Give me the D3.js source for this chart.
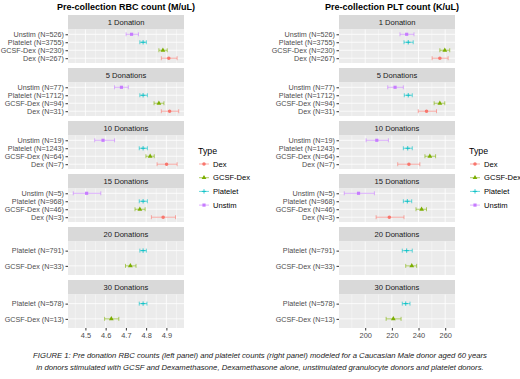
<html>
  <head>
    <style>
      body { margin: 0; background: #fff; }
      svg { font-family: "Liberation Sans", Arial, sans-serif; }
    </style>
  </head>
  <body>
    <svg id="chart" width="520" height="379"></svg>
    <script src="https://cdn.jsdelivr.net/npm/d3@7"></script>
    <script>
      // facet names and row data (top to bottom inside each facet)
      const facetNames = ["1 Donation", "5 Donations", "10 Donations", "15 Donations", "20 Donations", "30 Donations"];
      const rowFacet = [0, 0, 0, 0, 1, 1, 1, 1, 2, 2, 2, 2, 3, 3, 3, 3, 4, 4, 5, 5];
      const rowType = ["Unstim", "Platelet", "GCSF-Dex", "Dex",
                       "Unstim", "Platelet", "GCSF-Dex", "Dex",
                       "Unstim", "Platelet", "GCSF-Dex", "Dex",
                       "Unstim", "Platelet", "GCSF-Dex", "Dex",
                       "Platelet", "GCSF-Dex",
                       "Platelet", "GCSF-Dex"];
      const rowN = [526, 3755, 230, 267, 77, 1712, 94, 31, 19, 1243, 64, 7, 5, 968, 46, 3, 791, 33, 578, 13];

      // RBC (M/uL)
      const rbcMean = [4.728, 4.785, 4.883, 4.912, 4.678, 4.785, 4.863, 4.916, 4.587, 4.785, 4.820, 4.901,
                       4.506, 4.785, 4.769, 4.884, 4.785, 4.722, 4.785, 4.628];
      const rbcLow  = [4.701, 4.769, 4.863, 4.875, 4.644, 4.769, 4.839, 4.875, 4.546, 4.766, 4.799, 4.854,
                       4.440, 4.766, 4.745, 4.826, 4.769, 4.698, 4.766, 4.595];
      const rbcHigh = [4.762, 4.801, 4.904, 4.953, 4.712, 4.806, 4.888, 4.961, 4.644, 4.806, 4.840, 4.953,
                       4.576, 4.806, 4.795, 4.945, 4.801, 4.750, 4.804, 4.665];
      const rbcTicks = [4.5, 4.6, 4.7, 4.8, 4.9];

      // PLT (K/uL)
      const pltMean = [231.1, 232.3, 259.7, 256.0, 222.4, 232.3, 256.0, 246.0, 208.7, 231.9, 248.5, 232.8,
                       195.0, 231.6, 242.3, 218.1, 231.1, 234.9, 230.4, 221.1];
      const pltLow  = [226.1, 229.1, 256.0, 250.2, 216.9, 229.3, 251.7, 239.8, 200.7, 228.6, 244.8, 224.4,
                       184.3, 228.6, 238.1, 208.2, 227.8, 230.4, 227.8, 215.7];
      const pltHigh = [236.6, 236.0, 263.4, 262.2, 228.6, 235.3, 259.7, 253.5, 217.4, 235.3, 252.8, 241.0,
                       206.9, 234.9, 246.0, 229.1, 235.3, 238.6, 233.6, 226.9];
      const pltTicks = [200, 220, 240, 260];

      const types = ["Dex", "GCSF-Dex", "Platelet", "Unstim"];
      const typeColors = ["#F8766D", "#7CAE00", "#00BFC4", "#C77CFF"];
      const typeShapes = [d3.symbolCircle, d3.symbolTriangle, "plus", d3.symbolSquare];

      const color = d3.scaleOrdinal().domain(types).range(typeColors);
      const shape = d3.scaleOrdinal().domain(types).range(typeShapes);

      const svg = d3.select("#chart");
      svg.append("rect").attr("width", 520).attr("height", 379).attr("fill", "#fff");

      const firstTop = 15, pitch = 53, stripH = 14.5, panelH = 33.5;

      function drawPoint(g, t, px, py) {
        const sym = shape(t);
        if (sym === "plus") {
          g.append("path")
            .attr("d", `M${px - 2.2},${py}H${px + 2.2}M${px},${py - 2.2}V${py + 2.2}`)
            .attr("stroke", color(t)).attr("stroke-width", 0.8).attr("fill", "none");
        } else {
          g.append("path")
            .attr("d", d3.symbol().type(sym).size(10)())
            .attr("transform", `translate(${px},${py})`)
            .attr("fill", color(t));
        }
      }

      function drawPlot(cfg) {
        const g = svg.append("g");
        const lo = d3.min(cfg.low), hi = d3.max(cfg.high);
        const pad = (hi - lo) * 0.05;
        const x = d3.scaleLinear().domain([lo - pad, hi + pad]).range([cfg.x0, cfg.x1]);
        const step = cfg.ticks[1] - cfg.ticks[0];
        const minor = d3.range(cfg.ticks.length + 1)
          .map(i => cfg.ticks[0] - step / 2 + i * step)
          .filter(v => v >= x.domain()[0] && v <= x.domain()[1]);

        g.append("text")
          .attr("x", cfg.titleX).attr("y", 10)
          .attr("text-anchor", "middle")
          .attr("font-size", 9).attr("font-weight", "bold").attr("fill", "#000")
          .text(cfg.title);

        facetNames.forEach((name, f) => {
          const top = firstTop + f * pitch;
          const pTop = top + stripH;
          const rows = d3.range(rowFacet.length).filter(i => rowFacet[i] === f);
          const labels = rows.map(i => `${rowType[i]} (N=${rowN[i]})`);
          const y = d3.scalePoint().domain(labels).range([pTop, pTop + panelH]).padding(0.6);

          g.append("rect").attr("x", cfg.x0).attr("y", top)
            .attr("width", cfg.x1 - cfg.x0).attr("height", stripH).attr("fill", "#D9D9D9");
          g.append("text")
            .attr("x", (cfg.x0 + cfg.x1) / 2).attr("y", top + stripH / 2 + 2.7)
            .attr("text-anchor", "middle").attr("font-size", 7.6).attr("fill", "#1A1A1A")
            .text(name);

          g.append("rect").attr("x", cfg.x0).attr("y", pTop)
            .attr("width", cfg.x1 - cfg.x0).attr("height", panelH).attr("fill", "#EBEBEB");

          g.selectAll(null).data(minor).enter().append("line")
            .attr("x1", d => x(d)).attr("x2", d => x(d))
            .attr("y1", pTop).attr("y2", pTop + panelH)
            .attr("stroke", "#fff").attr("stroke-width", 0.4);
          g.selectAll(null).data(cfg.ticks).enter().append("line")
            .attr("x1", d => x(d)).attr("x2", d => x(d))
            .attr("y1", pTop).attr("y2", pTop + panelH)
            .attr("stroke", "#fff").attr("stroke-width", 0.8);
          g.selectAll(null).data(labels).enter().append("line")
            .attr("x1", cfg.x0).attr("x2", cfg.x1)
            .attr("y1", d => y(d)).attr("y2", d => y(d))
            .attr("stroke", "#fff").attr("stroke-width", 0.8);

          const yAxis = g.append("g")
            .attr("transform", `translate(${cfg.x0},0)`)
            .call(d3.axisLeft(y).tickSize(2.5).tickPadding(1.5));
          yAxis.select(".domain").remove();
          yAxis.selectAll(".tick line").attr("stroke", "#333");
          yAxis.selectAll(".tick text").attr("fill", "#4D4D4D")
            .attr("font-size", 7.2).attr("font-family", "Liberation Sans, Arial, sans-serif");

          rows.forEach((i, k) => {
            const c = color(rowType[i]);
            const yy = y(labels[k]);
            const bar = g.append("g").attr("stroke", c).attr("stroke-width", 0.6);
            bar.append("line").attr("x1", x(cfg.low[i])).attr("x2", x(cfg.high[i]))
              .attr("y1", yy).attr("y2", yy);
            [cfg.low[i], cfg.high[i]].forEach(v => {
              bar.append("line").attr("x1", x(v)).attr("x2", x(v))
                .attr("y1", yy - 2).attr("y2", yy + 2);
            });
            drawPoint(g, rowType[i], x(cfg.mean[i]), yy);
          });

          if (f === facetNames.length - 1) {
            const xAxis = g.append("g")
              .attr("transform", `translate(0,${pTop + panelH})`)
              .call(d3.axisBottom(x).tickValues(cfg.ticks).tickFormat(d3.format(cfg.fmt))
                .tickSize(2.5).tickPadding(2.5));
            xAxis.select(".domain").remove();
            xAxis.selectAll(".tick line").attr("stroke", "#333");
            xAxis.selectAll(".tick text").attr("fill", "#4D4D4D")
              .attr("font-size", 7.4).attr("font-family", "Liberation Sans, Arial, sans-serif");
          }
        });

        // legend
        const lg = g.append("g").attr("transform", `translate(${cfg.legendX},0)`);
        lg.append("text").attr("x", 0).attr("y", 154)
          .attr("font-size", 8.8).attr("fill", "#000").text("Type");
        types.forEach((t, k) => {
          const ky = 164 + k * 13.7;
          lg.append("line").attr("x1", 1).attr("x2", 11).attr("y1", ky).attr("y2", ky)
            .attr("stroke", color(t)).attr("stroke-width", 0.6);
          drawPoint(lg, t, 6, ky);
          lg.append("text").attr("x", 15).attr("y", ky + 2.6)
            .attr("font-size", 7.6).attr("fill", "#000").text(t);
        });
      }

      drawPlot({
        title: "Pre-collection RBC count (M/uL)", titleX: 126,
        x0: 68, x1: 184, legendX: 198, fmt: ".1f",
        mean: rbcMean, low: rbcLow, high: rbcHigh, ticks: rbcTicks
      });
      drawPlot({
        title: "Pre-collection PLT count (K/uL)", titleX: 392,
        x0: 339, x1: 455, legendX: 469, fmt: "d",
        mean: pltMean, low: pltLow, high: pltHigh, ticks: pltTicks
      });

      const caption = [
        "FIGURE 1: Pre donation RBC counts (left panel) and platelet counts (right panel) modeled for a Caucasian Male donor aged 60 years",
        "in donors stimulated with GCSF and Dexamethasone, Dexamethasone alone, unstimulated granulocyte donors and platelet donors."
      ];
      svg.selectAll(".caption").data(caption).enter().append("text")
        .attr("class", "caption")
        .attr("x", 260).attr("y", (d, i) => 358 + i * 12)
        .attr("text-anchor", "middle").attr("font-size", 7.7)
        .attr("font-style", "italic").attr("fill", "#222")
        .text(d => d);
    </script>
  </body>
</html>
